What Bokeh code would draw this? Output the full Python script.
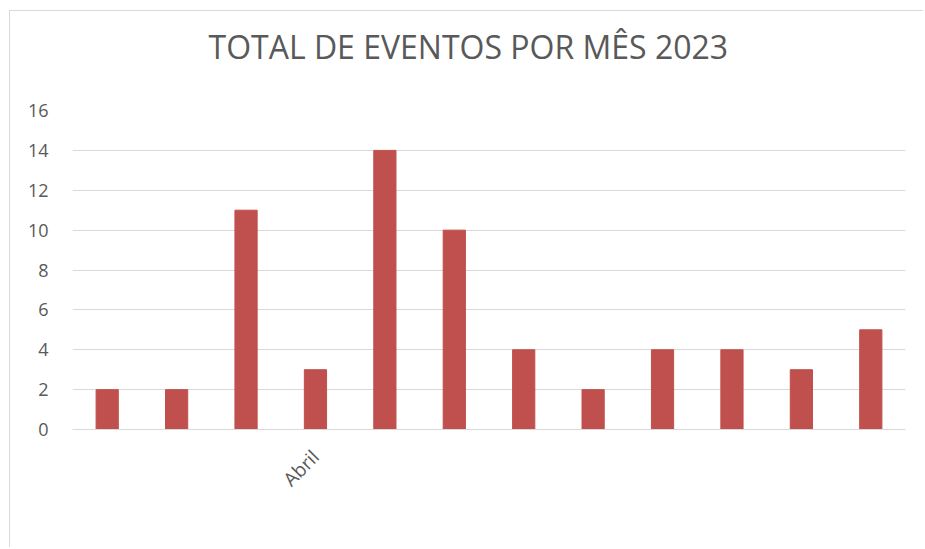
import math
from bokeh.plotting import figure
from bokeh.models import Range1d, FixedTicker, ColumnDataSource
from bokeh.embed import file_html
from bokeh.resources import INLINE

# Data
meses = ["Janeiro", "Fevereiro", "Março", "Abril", "Maio", "Junho",
         "Julho", "Agosto", "Setembro", "Outubro", "Novembro", "Dezembro"]
eventos = [2, 2, 11, 3, 14, 10, 4, 2, 4, 4, 3, 5]
rotulos_visiveis = ["", "", "", "Abril", "", "", "", "", "", "", "", ""]
y_ticks = [0, 2, 4, 6, 8, 10, 12, 14, 16]
titulo = "TOTAL DE EVENTOS POR MÊS 2023"

posicoes = list(range(1, len(meses) + 1))
source = ColumnDataSource(data=dict(pos=posicoes, mes=meses, total=eventos))

p = figure(
    width=914, height=537,
    x_range=Range1d(0.5, len(meses) + 0.5),
    y_range=Range1d(0, 16),
    output_backend="svg", toolbar_location=None,
    min_border_left=62, min_border_right=19,
    min_border_top=99, min_border_bottom=119,
)
p.margin = (10, 0, 0, 9)
p.styles = {"border-left": "1px solid #d9d9d9", "border-top": "1px solid #d9d9d9"}

# a blank second line lifts the title away from the plot area
p.title.text = titulo + "\n "
p.title.align = "left"
p.title.text_font = "Open Sans"
p.title.text_font_size = "32px"
p.title.text_font_style = "normal"
p.title.text_color = "#595959"
p.title.text_line_height = 1.0
p.title.offset = 136
p.title.standoff = 0

p.vbar(x="pos", top="total", width=0.32, source=source,
       fill_color="#c0504d", line_color="#c0504d")

p.outline_line_color = None
p.xgrid.grid_line_color = None
p.ygrid.grid_line_color = "#d9d9d9"
p.ygrid.grid_line_width = 1

p.yaxis.ticker = FixedTicker(ticks=y_ticks)
p.yaxis.axis_line_color = None
p.yaxis.major_tick_line_color = None
p.yaxis.minor_tick_line_color = None
p.yaxis.major_tick_out = 0
p.yaxis.major_tick_in = 0
p.yaxis.major_label_standoff = 24
p.yaxis.major_label_text_font = "Open Sans"
p.yaxis.major_label_text_font_size = "18px"
p.yaxis.major_label_text_color = "#595959"

xaxis = p.below[0]
xaxis.ticker = FixedTicker(ticks=posicoes)
xaxis.minor_tick_line_color = None
xaxis.axis_line_color = "#d9d9d9"
xaxis.major_tick_line_color = None
xaxis.major_tick_out = 0
xaxis.major_tick_in = 0
xaxis.major_label_standoff = 24
xaxis.major_label_orientation = math.pi / 4
xaxis.major_label_text_font = "Open Sans"
xaxis.major_label_text_font_size = "19px"
xaxis.major_label_text_color = "#595959"
xaxis.major_label_overrides = {pos: r for pos, r in zip(posicoes, rotulos_visiveis)}

open("out.html", "w").write(file_html(p, INLINE))
